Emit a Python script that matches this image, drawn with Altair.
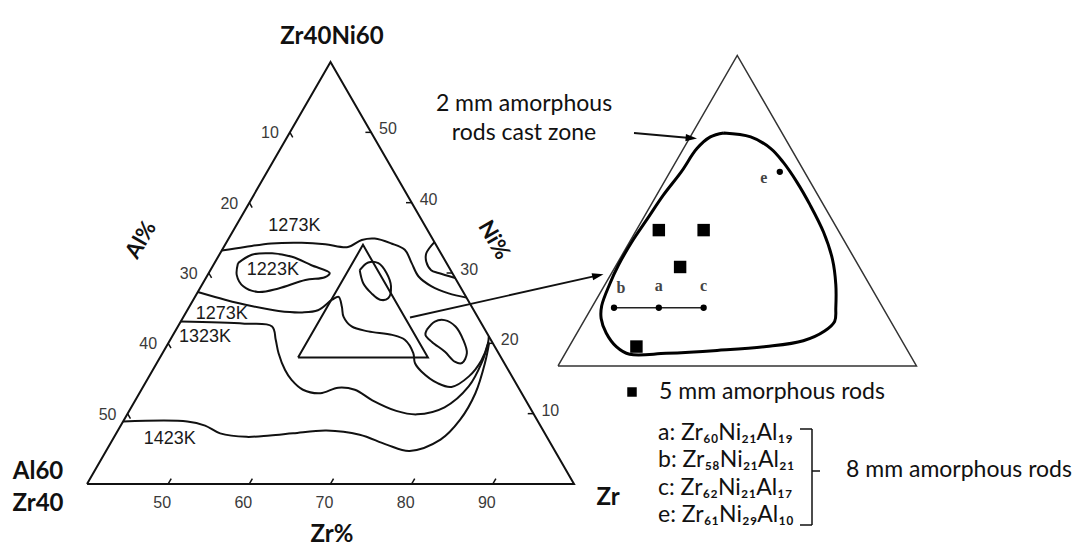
import altair as alt
import pandas as pd

# ---------------- data: compositions (at.%) Zr, Ni ; Al = 100 - Zr - Ni ----------------
main_tri_zr = [40, 100, 40]
main_tri_ni = [0, 0, 60]

small_tri_zr = [57, 73, 57]
small_tri_ni = [18, 18, 34]

c1273u_zr = [40.0, 42.6, 45.6, 49.3, 52.3, 55.3, 56.5, 58.0, 60.4, 62.5, 64.3, 66.1, 68.4, 71.0, 73.5]
c1273u_ni = [33.2, 33.7, 34.2, 34.3, 34.1, 33.7, 34.7, 34.9, 34.2, 33.3, 31.4, 29.5, 28.1, 27.1, 26.5]

c1223_zr = [42.9, 44.0, 46.4, 49.1, 52.1, 54.9, 54.6, 52.4, 49.7, 47.4, 45.2, 43.6, 42.9]
c1223_ni = [31.4, 32.6, 32.8, 32.3, 31.1, 30.0, 29.4, 29.0, 27.8, 27.3, 28.1, 29.7, 31.4]

c1273l_zr = [40.0, 43.9, 47.6, 51.3, 54.3, 56.1, 57.1, 57.7, 58.8, 59.7, 61.4, 63.8, 67.0, 68.9,
             70.9, 71.8, 73.2, 76.1, 78.0, 79.4, 79.8, 79.4, 79.0]
c1273l_ni = [27.3, 26.2, 25.3, 24.6, 24.4, 24.7, 26.2, 26.6, 25.2, 23.8, 22.4, 21.7, 21.2, 20.5,
             18.6, 17.2, 16.0, 14.3, 13.8, 15.3, 17.6, 20.0, 21.0]

c1323_zr = [40.0, 48.0, 51.6, 53.0, 54.3, 56.3, 57.8, 59.9, 62.3, 64.1, 66.3, 69.2, 72.9, 75.7,
            78.6, 80.1, 80.0, 79.4]
c1323_ni = [23.1, 22.8, 22.4, 20.5, 18.6, 16.2, 14.8, 13.4, 12.9, 13.7, 13.4, 11.9, 10.4, 9.9,
            10.9, 13.9, 17.3, 20.1]

c1423_zr = [40.0, 47.9, 50.4, 52.8, 56.3, 59.1, 61.8, 65.7, 70.1, 74.1, 77.4, 80.4, 81.4, 81.4, 80.4, 79.5]
c1423_ni = [8.9, 8.9, 8.3, 7.2, 6.7, 6.9, 7.2, 7.6, 7.0, 5.6, 4.7, 6.3, 9.1, 12.9, 17.3, 20.1]

oval_in_zr = [58.4, 58.9, 60.2, 61.9, 63.4, 63.9, 63.0, 61.5, 59.8, 58.4]
oval_in_ni = [30.4, 31.5, 31.4, 30.0, 28.1, 26.4, 26.2, 27.1, 28.5, 30.4]

oval_r_zr = [70.9, 71.3, 72.4, 74.2, 76.1, 77.5, 77.6, 76.6, 74.7, 72.4, 71.1, 70.9]
oval_r_ni = [21.9, 23.1, 23.3, 22.4, 20.5, 18.6, 17.2, 17.4, 18.8, 20.2, 21.2, 21.9]

arc_edge_zr = [65.6, 65.4, 66.0, 67.2, 68.3, 70.7]
arc_edge_ni = [34.4, 32.8, 31.6, 30.4, 30.0, 29.3]

zone_zr = [58.4, 59.7, 60.9, 61.8, 62.9, 64.1, 65.4, 66.5, 67.3, 67.9, 68.2, 68.0, 67.3, 65.8, 63.7,
           61.5, 59.9, 59.1, 58.3, 57.7, 57.4, 57.2, 57.1, 57.1, 57.2, 57.3, 57.5, 57.6, 57.9, 58.4]
zone_ni = [30.0, 29.8, 29.2, 28.5, 27.5, 26.3, 24.9, 23.5, 22.2, 21.0, 20.3, 19.8, 19.3, 19.0, 18.8,
           18.65, 18.6, 19.0, 19.7, 20.45, 21.1, 22.2, 23.2, 24.4, 25.6, 26.8, 28.0, 29.2, 29.8, 30.0]

rod5_zr = [58.0, 60.0, 59.9, 60.0]
rod5_ni = [25.0, 25.0, 23.1, 19.0]

rod8_labels = ["b", "a", "c", "e"]
rod8_zr = [58.0, 60.0, 62.0, 61.9]
rod8_ni = [21.0, 21.0, 21.0, 28.0]

zr_ticks = [50, 60, 70, 80, 90]
al_ticks = [10, 20, 30, 40, 50]
ni_ticks = [50, 40, 30, 20, 10]

contour_labels = ["1273K", "1223K", "1273K", "1323K", "1423K"]
contour_label_zr = [47.2, 47.7, 44.5, 44.1, 47.0]
contour_label_ni = [36.7, 30.4, 24.2, 20.9, 6.4]

legend_lines = ["a: Zr\u2086\u2080Ni\u2082\u2081Al\u2081\u2089",
                "b: Zr\u2085\u2088Ni\u2082\u2081Al\u2082\u2081",
                "c: Zr\u2086\u2082Ni\u2082\u2081Al\u2081\u2087",
                "e: Zr\u2086\u2081Ni\u2082\u2089Al\u2081\u2080"]

# ---------------- geometry helpers (layout) ----------------
X_DOMAIN = [29.28, 161.97]
Y_DOMAIN = [-8.82, 68.82]
xs = alt.Scale(domain=X_DOMAIN, nice=False, zero=False)
ys = alt.Scale(domain=Y_DOMAIN, nice=False, zero=False)

INSET_X0, INSET_Y0, K = 98.03, 16.78, 2.76


def main_xy(zr, ni):
    return zr + ni / 2.0, ni


def inset_xy(zr, ni):
    X, Y = zr + ni / 2.0, ni
    return INSET_X0 + (X - 66.0) * K, INSET_Y0 + (Y - 18.0) * K


def line_df(series, fn):
    rows = []
    for sid, (zrs, nis) in series.items():
        for i, (z, n) in enumerate(zip(zrs, nis)):
            X, Y = fn(z, n)
            rows.append({"id": sid, "ord": i, "X": X, "Y": Y})
    return pd.DataFrame(rows)


def XE(f="X"):
    return alt.X(f + ":Q", scale=xs, axis=None)


def YE(f="Y"):
    return alt.Y(f + ":Q", scale=ys, axis=None)


one = pd.DataFrame({"k": [0]})
FONT = "Lato"
layers = []

# main triangle + small triangle
tri_df = line_df({
    "main": (main_tri_zr + main_tri_zr[:1], main_tri_ni + main_tri_ni[:1]),
    "small": (small_tri_zr + small_tri_zr[:1], small_tri_ni + small_tri_ni[:1]),
}, main_xy)
layers.append(alt.Chart(tri_df).mark_line(color="#111", strokeWidth=2, strokeJoin="miter").encode(
    x=XE(), y=YE(), detail="id:N", order="ord:Q"))

# contours
cont_df = line_df({
    "u1273": (c1273u_zr, c1273u_ni),
    "c1223": (c1223_zr, c1223_ni),
    "l1273": (c1273l_zr, c1273l_ni),
    "c1323": (c1323_zr, c1323_ni),
    "c1423": (c1423_zr, c1423_ni),
    "ovi": (oval_in_zr, oval_in_ni),
    "ovr": (oval_r_zr, oval_r_ni),
    "arc": (arc_edge_zr, arc_edge_ni),
}, main_xy)
layers.append(alt.Chart(cont_df).mark_line(color="#111", strokeWidth=2, interpolate="catmull-rom").encode(
    x=XE(), y=YE(), detail="id:N", order="ord:Q"))

# ticks
trows = []
for z in zr_ticks:
    X1, Y1 = main_xy(z, 0)
    X2, Y2 = main_xy(z, 0.75)
    trows.append({"X": X1, "Y": Y1, "X2": X2, "Y2": Y2})
for a in al_ticks:
    n = 60 - a
    X1, Y1 = main_xy(40, n)
    X2, Y2 = main_xy(40.7, n - 0.7)
    trows.append({"X": X1, "Y": Y1, "X2": X2, "Y2": Y2})
for n in ni_ticks:
    X1, Y1 = main_xy(100 - n, n)
    X2, Y2 = main_xy(99.3 - n, n)
    trows.append({"X": X1, "Y": Y1, "X2": X2, "Y2": Y2})
layers.append(alt.Chart(pd.DataFrame(trows)).mark_rule(color="#111", strokeWidth=1.5).encode(
    x=XE(), y=YE(), x2="X2:Q", y2="Y2:Q"))


# tick labels
def tick_lab(vals, pts, dx, dy, align):
    rows = []
    for v, (z, n) in zip(vals, pts):
        X, Y = main_xy(z, n)
        rows.append({"X": X, "Y": Y, "t": str(v)})
    return alt.Chart(pd.DataFrame(rows)).mark_text(
        font="Liberation Sans", fontSize=16, color="#3a3a3a", dx=dx, dy=dy, align=align,
        baseline="middle").encode(x=XE(), y=YE(), text="t:N")


layers.append(tick_lab(zr_ticks, [(z, 0) for z in zr_ticks], -6, 19, "center"))
layers.append(tick_lab(al_ticks, [(40, 60 - a) for a in al_ticks], -20, 1, "center"))
layers.append(tick_lab(ni_ticks, [(100 - n, n) for n in ni_ticks], 8, -3, "left"))

# contour labels (placed in data space)
cl_rows = []
for t, z, n in zip(contour_labels, contour_label_zr, contour_label_ni):
    X, Y = main_xy(z, n)
    cl_rows.append({"X": X, "Y": Y, "t": t})
layers.append(alt.Chart(pd.DataFrame(cl_rows)).mark_text(
    font="Liberation Sans", fontSize=18, color="#1a1a1a", align="center", baseline="middle").encode(
    x=XE(), y=YE(), text="t:N"))

# inset triangle
inset_tri = line_df({"inset": (small_tri_zr + small_tri_zr[:1], small_tri_ni + small_tri_ni[:1])}, inset_xy)
layers.append(alt.Chart(inset_tri).mark_line(color="#333", strokeWidth=1.5, strokeJoin="miter").encode(
    x=XE(), y=YE(), detail="id:N", order="ord:Q"))

# inset zone contour
zone_df = line_df({"zone": (zone_zr, zone_ni)}, inset_xy)
layers.append(alt.Chart(zone_df).mark_line(color="#000", strokeWidth=3, interpolate="catmull-rom").encode(
    x=XE(), y=YE(), detail="id:N", order="ord:Q"))

# 5 mm rods squares
sq_rows = []
for z, n in zip(rod5_zr, rod5_ni):
    X, Y = inset_xy(z, n)
    sq_rows.append({"X": X, "Y": Y})
layers.append(alt.Chart(pd.DataFrame(sq_rows)).mark_square(color="#000", size=155, opacity=1).encode(
    x=XE(), y=YE()))

# 8 mm rods points, b-a-c line
pt_rows = []
for lab, z, n in zip(rod8_labels, rod8_zr, rod8_ni):
    X, Y = inset_xy(z, n)
    pt_rows.append({"X": X, "Y": Y, "lab": lab, "ord": z})
pt_df = pd.DataFrame(pt_rows)
layers.append(alt.Chart(pt_df[pt_df.lab != "e"]).mark_line(color="#222", strokeWidth=1.5).encode(
    x=XE(), y=YE(), order="ord:Q"))
layers.append(alt.Chart(pt_df).mark_circle(color="#000", size=40, opacity=1).encode(x=XE(), y=YE()))
layers.append(alt.Chart(pt_df[pt_df.lab.isin(["a", "c"])]).mark_text(
    font="Liberation Serif", fontSize=16, fontWeight="bold", color="#444", dy=-22, align="center",
    baseline="middle").encode(x=XE(), y=YE(), text="lab:N"))
layers.append(alt.Chart(pt_df[pt_df.lab == "b"]).mark_text(
    font="Liberation Serif", fontSize=16, fontWeight="bold", color="#444", dx=7, dy=-20, align="center",
    baseline="middle").encode(x=XE(), y=YE(), text="lab:N"))
layers.append(alt.Chart(pt_df[pt_df.lab == "e"]).mark_text(
    font="Liberation Serif", fontSize=16, fontWeight="bold", color="#444", dx=-16, dy=6, align="center",
    baseline="middle").encode(x=XE(), y=YE(), text="lab:N"))


# ---------------- annotations (layout in pixels) ----------------
def txt(text, x, y, size, weight="normal", align="center", baseline="alphabetic", angle=0,
        font=FONT, color="#111"):
    return alt.Chart(one).mark_text(text=text, fontSize=size, fontWeight=weight, align=align,
                                    baseline=baseline, angle=angle, font=font, color=color).encode(
        x=alt.value(x), y=alt.value(y))


layers += [
    txt("Zr40Ni60", 332, 44, 24, "bold"),
    txt("Al60", 38, 479, 24, "bold"),
    txt("Zr40", 38, 511, 24, "bold"),
    txt("Zr", 608, 505, 24, "bold"),
    txt("Zr%", 332, 542, 24, "bold"),
    txt("Al%", 141, 240, 22, "bold", baseline="middle", angle=300),
    txt("Ni%", 494, 240, 22, "bold", baseline="middle", angle=60),
    txt("2 mm amorphous", 524, 104, 23, baseline="middle"),
    txt("rods cast zone", 524, 133, 23, baseline="middle"),
    txt("5 mm amorphous rods", 659, 392, 23, align="left", baseline="middle"),
    txt("8 mm amorphous rods", 846, 470, 23, align="left", baseline="middle"),
]
for i, line in enumerate(legend_lines):
    layers.append(txt(line, 658, 433 + i * 27.3, 23, align="left", baseline="middle"))

# legend square
layers.append(alt.Chart(one).mark_square(color="#000", size=90, opacity=1).encode(
    x=alt.value(632), y=alt.value(392)))


def seg(x1, y1, x2, y2, w=1.5, color="#111"):
    return alt.Chart(one).mark_rule(color=color, strokeWidth=w).encode(
        x=alt.value(x1), y=alt.value(y1), x2=alt.value(x2), y2=alt.value(y2))


# bracket
layers += [
    seg(800, 429, 812, 429), seg(812, 429, 812, 525), seg(800, 525, 812, 525), seg(812, 471, 820, 471),
]

# arrows
ARROW = "M0,0 L-2,-0.62 L-2,0.62 Z"
layers += [
    seg(634, 133, 690, 138, 1.8),
    alt.Chart(one).mark_point(shape=ARROW, filled=True, color="#000", size=130, angle=5, opacity=1).encode(
        x=alt.value(697), y=alt.value(138.6)),
    seg(410, 317.5, 597, 275.6, 1.8),
    alt.Chart(one).mark_point(shape=ARROW, filled=True, color="#000", size=130, angle=347.4, opacity=1).encode(
        x=alt.value(603.5), y=alt.value(274.3)),
]

chart = alt.layer(*layers).properties(
    width=1077, height=546, padding=0, autosize=alt.AutoSizeParams(type="none"),
    background="white",
).configure_view(stroke=None)

chart.save("out.html", embed_options={"renderer": "svg", "actions": False})
